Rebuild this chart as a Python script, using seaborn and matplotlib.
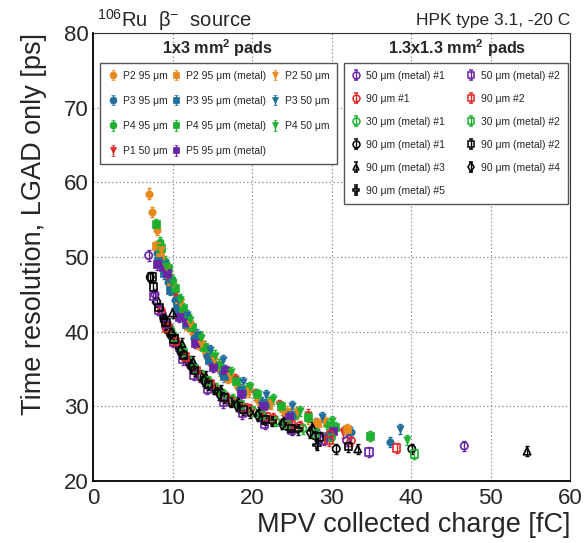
import numpy as np
import pandas as pd
import matplotlib
matplotlib.use("Agg")
import matplotlib.pyplot as plt
import seaborn as sns

# ---------------- data: 1x3 mm2 pads (filled markers) ----------------
p2_95_x = [7.0, 7.4, 8.0, 8.6, 9.3, 10.2, 11.3, 12.6, 14.2, 16.0, 18.2, 20.8, 23.8, 27.0]
p2_95_y = [58.5, 56.0, 53.6, 51.0, 48.5, 45.6, 42.6, 39.8, 37.0, 34.8, 32.6, 30.9, 29.6, 28.4]
p2_95m_x = [7.9, 8.4, 9.0, 9.8, 10.8, 12.0, 13.4, 15.0, 17.0, 19.3, 22.0, 24.4, 28.2, 32.0]
p2_95m_y = [51.5, 50.0, 48.3, 46.0, 43.4, 40.8, 38.2, 36.0, 33.8, 32.0, 30.3, 29.3, 27.8, 27.0]
p2_50_x = [8.5, 9.2, 10.0, 11.0, 12.2, 13.6, 15.2, 17.2, 19.6, 22.4, 25.6, 29.0]
p2_50_y = [51.0, 48.6, 46.4, 43.8, 41.0, 38.4, 36.2, 34.0, 32.0, 30.4, 29.2, 28.0]
p3_95_x = [8.1, 8.7, 9.4, 10.3, 11.4, 12.7, 14.3, 16.2, 18.5, 21.2, 24.4, 28.0, 32.5, 37.4]
p3_95_y = [50.5, 48.5, 46.6, 44.2, 41.8, 39.2, 36.8, 34.5, 32.3, 30.6, 29.0, 27.8, 26.5, 25.2]
p3_95m_x = [8.2, 8.9, 9.7, 10.6, 11.7, 13.0, 14.6, 16.5, 18.8, 21.6, 24.9, 29.6]
p3_95m_y = [49.5, 47.8, 45.6, 43.2, 41.0, 38.6, 36.2, 34.0, 32.0, 30.3, 28.9, 26.0]
p3_50_x = [9.0, 9.8, 10.7, 11.8, 13.1, 14.7, 16.4, 18.9, 21.7, 25.0, 28.8, 38.6]
p3_50_y = [49.0, 46.6, 44.2, 42.2, 39.6, 37.5, 36.2, 33.2, 31.5, 30.0, 28.6, 27.0]
p4_95_x = [8.4, 9.1, 9.9, 10.9, 12.0, 13.4, 15.0, 17.0, 19.4, 22.2, 25.5, 29.4]
p4_95_y = [52.0, 49.5, 47.0, 44.4, 42.0, 39.4, 36.8, 34.5, 32.4, 30.6, 29.0, 27.6]
p4_95m_x = [7.9, 8.6, 9.4, 10.3, 11.3, 12.5, 14.0, 15.8, 18.0, 20.6, 23.6, 27.0, 30.5, 34.8]
p4_95m_y = [54.4, 51.2, 48.5, 45.8, 43.2, 40.6, 38.0, 35.6, 33.4, 31.6, 30.0, 28.6, 27.2, 26.0]
p4_50_x = [9.2, 10.0, 11.0, 12.2, 13.6, 15.3, 17.3, 19.7, 22.6, 26.0, 30.0, 39.5]
p4_50_y = [48.8, 46.5, 44.2, 41.6, 39.2, 36.8, 34.6, 32.6, 31.0, 29.4, 28.0, 25.5]
p1_50_x = [9.4, 10.3, 11.3, 12.5, 14.0, 15.8, 17.9, 20.4, 23.4, 27.0, 31.5]
p1_50_y = [47.2, 45.0, 42.8, 40.4, 38.0, 35.6, 33.6, 31.6, 30.2, 28.9, 26.5]
p5_95m_x = [8.1, 8.8, 9.3, 10.8, 11.8, 12.8, 15.1, 16.6, 18.6, 21.4, 24.6, 30.2]
p5_95m_y = [49.0, 48.7, 47.9, 42.0, 41.3, 38.5, 35.3, 34.9, 31.6, 30.0, 28.6, 26.7]

# ---------------- data: 1.3x1.3 mm2 pads (open markers) ----------------
s50m1_x = [7.0, 7.8, 8.7, 9.7, 10.9, 12.3, 14.0, 16.0, 18.4, 21.2, 24.5, 28.3, 31.9, 46.7]
s50m1_y = [50.2, 45.0, 42.4, 40.0, 37.6, 35.4, 33.4, 31.6, 30.0, 28.5, 27.3, 26.2, 25.4, 24.7]
s50m2_x = [7.6, 8.2, 9.1, 10.1, 11.3, 12.7, 14.4, 16.4, 18.8, 21.6, 25.0, 29.0, 34.7]
s50m2_y = [44.7, 42.9, 41.0, 38.6, 36.3, 34.2, 32.3, 30.5, 29.0, 27.6, 26.8, 25.5, 23.9]
s90_1_x = [8.6, 9.6, 10.7, 12.0, 13.5, 15.3, 17.4, 19.8, 22.7, 26.0, 29.8, 32.5]
s90_1_y = [42.8, 40.6, 38.2, 36.0, 34.0, 32.4, 30.8, 29.6, 28.4, 27.4, 26.3, 25.4]
s90_2_x = [9.3, 10.4, 11.6, 13.0, 14.7, 16.7, 19.0, 21.8, 25.0, 29.7, 38.2]
s90_2_y = [40.5, 38.7, 36.6, 34.8, 33.0, 31.2, 29.8, 28.6, 27.6, 25.4, 24.4]
s30m1_x = [9.8, 10.9, 12.2, 13.7, 15.5, 17.6, 20.1, 23.0, 26.4, 30.0]
s30m1_y = [40.2, 38.0, 36.0, 34.2, 32.4, 30.9, 29.4, 28.0, 27.0, 25.8]
s30m2_x = [10.2, 11.4, 12.8, 14.4, 16.3, 18.5, 21.2, 24.3, 28.0, 40.4]
s30m2_y = [39.2, 37.2, 35.0, 33.4, 31.6, 30.2, 28.8, 27.6, 26.4, 23.6]
s90m1_x = [7.2, 8.0, 8.9, 9.9, 11.1, 12.5, 14.2, 16.2, 18.6, 21.4, 24.6, 28.0, 30.6, 40.1]
s90m1_y = [47.3, 44.0, 41.8, 39.4, 37.2, 35.2, 33.2, 31.4, 30.0, 28.4, 27.2, 26.0, 24.3, 24.3]
s90m2_x = [7.4, 7.6, 8.3, 9.2, 10.2, 11.4, 12.8, 14.5, 16.5, 18.9, 21.7, 25.0, 28.5, 32.1]
s90m2_y = [47.3, 46.0, 43.2, 41.2, 39.0, 36.8, 34.8, 32.9, 31.2, 29.6, 28.2, 27.0, 25.9, 24.6]
s90m3_x = [10.0, 11.2, 12.6, 14.2, 16.1, 18.3, 20.9, 24.0, 27.6, 33.3, 54.6]
s90m3_y = [42.5, 38.4, 36.0, 34.0, 32.2, 30.6, 29.2, 28.0, 27.2, 24.3, 24.0]
s90m4_x = [8.9, 9.9, 11.0, 12.4, 14.0, 15.9, 18.1, 20.7, 23.8, 27.3]
s90m4_y = [41.4, 39.8, 37.4, 35.3, 33.4, 31.6, 30.1, 28.8, 27.6, 26.5]
s90m5_x = [9.5, 10.6, 11.9, 13.4, 15.2, 17.3, 19.7, 22.5, 25.8, 28.2]
s90m5_y = [40.0, 38.2, 36.1, 34.1, 32.3, 30.6, 29.2, 28.0, 26.9, 24.8]

x_ticks = [0, 10, 20, 30, 40, 50, 60]
y_ticks = [20, 30, 40, 50, 60, 70, 80]

ORANGE = "#e8891b"
BLUE = "#1f6e9c"
GREEN = "#20b030"
RED = "#e02828"
PURPLE = "#6a25a5"
BLACK = "#000000"

filled_series = [
    ("P2 95 μm", p2_95_x, p2_95_y, ORANGE, "o"),
    ("P3 95 μm", p3_95_x, p3_95_y, BLUE, "o"),
    ("P4 95 μm", p4_95_x, p4_95_y, GREEN, "o"),
    ("P1 50 μm", p1_50_x, p1_50_y, RED, "v"),
    ("P2 95 μm (metal)", p2_95m_x, p2_95m_y, ORANGE, "s"),
    ("P3 95 μm (metal)", p3_95m_x, p3_95m_y, BLUE, "s"),
    ("P4 95 μm (metal)", p4_95m_x, p4_95m_y, GREEN, "s"),
    ("P5 95 μm (metal)", p5_95m_x, p5_95m_y, PURPLE, "s"),
    ("P2 50 μm", p2_50_x, p2_50_y, ORANGE, "v"),
    ("P3 50 μm", p3_50_x, p3_50_y, BLUE, "v"),
    ("P4 50 μm", p4_50_x, p4_50_y, GREEN, "v"),
]
open_series = [
    ("50 μm (metal) #1", s50m1_x, s50m1_y, PURPLE, "o"),
    ("90 μm #1", s90_1_x, s90_1_y, RED, "o"),
    ("30 μm (metal) #1", s30m1_x, s30m1_y, GREEN, "o"),
    ("90 μm (metal) #1", s90m1_x, s90m1_y, BLACK, "o"),
    ("90 μm (metal) #3", s90m3_x, s90m3_y, BLACK, "^"),
    ("90 μm (metal) #5", s90m5_x, s90m5_y, BLACK, "P"),
    ("50 μm (metal) #2", s50m2_x, s50m2_y, PURPLE, "s"),
    ("90 μm #2", s90_2_x, s90_2_y, RED, "s"),
    ("30 μm (metal) #2", s30m2_x, s30m2_y, GREEN, "s"),
    ("90 μm (metal) #2", s90m2_x, s90m2_y, BLACK, "s"),
    ("90 μm (metal) #4", s90m4_x, s90m4_y, BLACK, "d"),
]

sns.set_style("white")
plt.rcParams["font.family"] = ["Liberation Sans", "DejaVu Sans"]
plt.rcParams["mathtext.fontset"] = "custom"
plt.rcParams["mathtext.rm"] = "Liberation Sans"
plt.rcParams["mathtext.it"] = "Liberation Sans:italic"
plt.rcParams["mathtext.bf"] = "Liberation Sans:bold"

fig = plt.figure(figsize=(5.85, 5.43), dpi=100)
ax = fig.add_axes([93/585, 1-481/543, 477/585, 448/543])

YERR = 0.7
MS = 28

def draw(series, filled):
    handles = []
    for label, xs, ys, c, m in series:
        df = pd.DataFrame({"x": xs, "y": ys})
        ax.errorbar(df["x"], df["y"], yerr=YERR, fmt="none", ecolor=c,
                    elinewidth=1.0, capsize=1.6, capthick=1.0, zorder=3)
        sns.scatterplot(data=df, x="x", y="y", marker=m,
                        s=MS if m not in ("d", "P") else MS*1.1,
                        color=c, ax=ax, zorder=4, legend=False)
        coll = ax.collections[-1]
        if filled:
            coll.set_facecolor(c)
            coll.set_edgecolor(c)
            coll.set_linewidth(0.5)
        else:
            coll.set_facecolor("none")
            coll.set_edgecolor(c)
            coll.set_linewidth(1.2)
        h = ax.errorbar([np.nan], [np.nan], yerr=[0.5], fmt=m, color=c,
                        mfc=c if filled else "none", mec=c, ms=5.0,
                        mew=0.5 if filled else 1.1, elinewidth=1.0,
                        capsize=1.6, label=label)
        handles.append(h)
    return handles

h_filled = draw(filled_series, True)
h_open = draw(open_series, False)

ax.set_xlim(0, 60)
ax.set_ylim(20, 80)
ax.set_xticks(x_ticks)
ax.set_yticks(y_ticks)
ax.set_xticks(np.arange(0, 61, 2), minor=True)
ax.set_yticks(np.arange(20, 81, 2), minor=True)
ax.tick_params(axis="both", which="major", direction="in", length=9, width=1.0,
               labelsize=16, top=False, right=False)
ax.tick_params(axis="x", which="major", pad=5)
ax.tick_params(axis="y", which="major", pad=3)
ax.tick_params(axis="both", which="minor", direction="in", length=5, width=1.0,
               top=False, right=False)
ax.grid(True, which="major", linestyle=(0, (1, 2)), color="#888888", linewidth=0.9)
ax.set_axisbelow(True)
for s in ("left", "bottom"):
    ax.spines[s].set_linewidth(1.3)
    ax.spines[s].set_color("black")
for s in ("top", "right"):
    ax.spines[s].set_linestyle((0, (1, 1)))
    ax.spines[s].set_linewidth(0.8)
    ax.spines[s].set_color("#333333")

ax.set_xlabel("MPV collected charge [fC]", fontsize=19.5, loc="right", labelpad=2)
ax.set_ylabel("Time resolution, LGAD only [ps]", fontsize=19.5, loc="top", labelpad=12)

fig.text(97/585, 1-20/543, r"$^{106}$Ru  β$^{-}$  source", fontsize=14.5, ha="left", va="center")
fig.text(570/585, 1-20/543, "HPK type 3.1, -20 C", fontsize=12.5, ha="right", va="center")

ax.text(0.262, 0.967, r"1x3 mm$^{\mathbf{2}}$ pads", transform=ax.transAxes, fontsize=11.7,
        fontweight="bold", ha="center", va="center")
ax.text(0.763, 0.967, r"1.3x1.3 mm$^{\mathbf{2}}$ pads", transform=ax.transAxes, fontsize=11.7,
        fontweight="bold", ha="center", va="center")

leg_kw = dict(fontsize=7.5, frameon=True, fancybox=False, borderaxespad=0,
              handlelength=0.9, handletextpad=0.5, columnspacing=0.6,
              borderpad=0.75, loc="upper left", mode="expand")
leg1 = ax.legend(handles=h_filled, ncol=3, labelspacing=1.45,
                 bbox_to_anchor=(0.015, 0.0, 0.497, 0.933), **leg_kw)
leg1.get_frame().set_edgecolor("#555555")
leg1.get_frame().set_linewidth(1.0)
leg1.get_frame().set_alpha(1)
ax.add_artist(leg1)
leg2 = ax.legend(handles=h_open, ncol=2, labelspacing=1.25,
                 bbox_to_anchor=(0.526, 0.0, 0.470, 0.933), **leg_kw)
leg2.get_frame().set_edgecolor("#555555")
leg2.get_frame().set_linewidth(1.0)
leg2.get_frame().set_alpha(1)

fig.savefig("out.png", dpi=100)
